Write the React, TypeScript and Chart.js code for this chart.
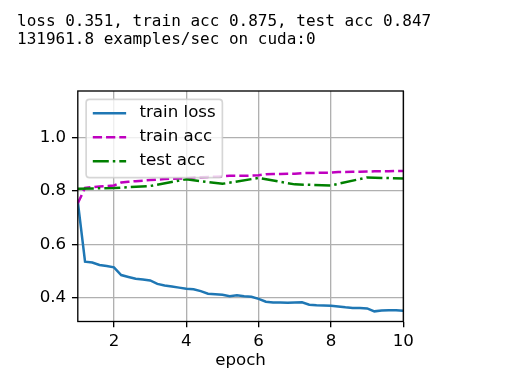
import React, { useEffect, useRef } from "react";
import { Chart, registerables } from "chart.js";

Chart.register(...registerables);

// ---- data ----
const epochs = [
  1.0, 1.2, 1.4, 1.6, 1.8, 2.0, 2.2, 2.4, 2.6, 2.8,
  3.0, 3.2, 3.4, 3.6, 3.8, 4.0, 4.2, 4.4, 4.6, 4.8,
  5.0, 5.2, 5.4, 5.6, 5.8, 6.0, 6.2, 6.4, 6.6, 6.8,
  7.0, 7.2, 7.4, 7.6, 7.8, 8.0, 8.2, 8.4, 8.6, 8.8,
  9.0, 9.2, 9.4, 9.6, 9.8, 10.0,
];
const trainLoss = [
  0.76, 0.535, 0.532, 0.523, 0.519, 0.514, 0.485, 0.478, 0.471, 0.468,
  0.465, 0.452, 0.446, 0.442, 0.438, 0.434, 0.432, 0.425, 0.415, 0.413,
  0.411, 0.406, 0.409, 0.406, 0.404, 0.396, 0.385, 0.382, 0.382, 0.381,
  0.382, 0.383, 0.374, 0.372, 0.371, 0.37, 0.367, 0.364, 0.362, 0.362,
  0.36, 0.349, 0.352, 0.353, 0.353, 0.351,
];
const trainAcc = [
  0.754, 0.812, 0.815, 0.817, 0.819, 0.821, 0.832, 0.835, 0.837, 0.839,
  0.841, 0.843, 0.845, 0.846, 0.847, 0.848, 0.851, 0.852, 0.853, 0.854,
  0.855, 0.857, 0.857, 0.857, 0.858, 0.859, 0.863, 0.864, 0.864, 0.865,
  0.865, 0.867, 0.868, 0.868, 0.869, 0.869, 0.871, 0.871, 0.872, 0.872,
  0.873, 0.874, 0.874, 0.874, 0.875, 0.875,
];
const testEpochs = [1, 2, 3, 4, 5, 6, 7, 8, 9, 10];
const testAcc = [0.809, 0.811, 0.819, 0.844, 0.827, 0.849, 0.825, 0.821, 0.851, 0.847];

const xTicks = [2, 4, 6, 8, 10];
const yTicks = [0.4, 0.6, 0.8, 1.0];
const seriesLabels = ["train loss", "train acc", "test acc"];
const xTitle = "epoch";
const summaryLines = [
  "loss 0.351, train acc 0.875, test acc 0.847",
  "131961.8 examples/sec on cuda:0",
];
const X_MIN = 1;
const X_MAX = 10;
const Y_MIN = 0.311;
const Y_MAX = 1.175;

// ---- style ----
const PT = 120 / 72; // px per point
const FS = 10 * PT;
const FONT_FAMILY = "'DejaVu Sans', sans-serif";
const LW = 1.5 * PT;

const framePlugin = {
  id: "mplFrame",
  afterDatasetsDraw(chart: any) {
    const { ctx, chartArea: a } = chart;
    ctx.save();
    // spines
    ctx.strokeStyle = "#000";
    ctx.lineWidth = 0.8 * PT;
    ctx.strokeRect(a.left, a.top, a.right - a.left, a.bottom - a.top);

    // legend
    ctx.font = `${FS}px ${FONT_FAMILY}`;
    const pad = 0.4 * FS;
    const axpad = 0.5 * FS;
    const handleLen = 2 * FS;
    const handlePad = 0.8 * FS;
    const maxW = Math.max(...seriesLabels.map((l) => ctx.measureText(l).width));
    const x0 = a.left + axpad;
    const y0 = a.top + axpad;
    const w = pad + handleLen + handlePad + maxW + pad;
    const h = 4.7 * FS;
    const rowH = 1.44 * FS;
    const r = 0.2 * FS;
    ctx.beginPath();
    ctx.moveTo(x0 + r, y0);
    ctx.lineTo(x0 + w - r, y0);
    ctx.quadraticCurveTo(x0 + w, y0, x0 + w, y0 + r);
    ctx.lineTo(x0 + w, y0 + h - r);
    ctx.quadraticCurveTo(x0 + w, y0 + h, x0 + w - r, y0 + h);
    ctx.lineTo(x0 + r, y0 + h);
    ctx.quadraticCurveTo(x0, y0 + h, x0, y0 + h - r);
    ctx.lineTo(x0, y0 + r);
    ctx.quadraticCurveTo(x0, y0, x0 + r, y0);
    ctx.closePath();
    ctx.fillStyle = "rgba(255,255,255,0.8)";
    ctx.fill();
    ctx.strokeStyle = "rgba(204,204,204,0.8)";
    ctx.lineWidth = 1.0 * PT;
    ctx.stroke();

    seriesLabels.forEach((label, i) => {
      const ds = chart.data.datasets.find((d: any) => d.label === label);
      const cy = y0 + 0.84 * FS + i * rowH;
      ctx.beginPath();
      ctx.setLineDash(ds.borderDash || []);
      ctx.strokeStyle = ds.borderColor;
      ctx.lineWidth = ds.borderWidth;
      ctx.lineCap = "butt";
      ctx.moveTo(x0 + pad, cy);
      ctx.lineTo(x0 + pad + handleLen, cy);
      ctx.stroke();
      ctx.setLineDash([]);
      ctx.fillStyle = "#000";
      ctx.textBaseline = "middle";
      ctx.textAlign = "left";
      ctx.fillText(label, x0 + pad + handleLen + handlePad, cy - 0.8);
    });
    ctx.restore();
  },
};

export default function App() {
  const canvasRef = useRef<HTMLCanvasElement | null>(null);

  useEffect(() => {
    if (!canvasRef.current) return;
    const tickFont = { family: FONT_FAMILY, size: FS };
    const chart = new Chart(canvasRef.current, {
      type: "line",
      data: {
        datasets: [
          {
            label: seriesLabels[0],
            data: epochs.map((x, i) => ({ x, y: trainLoss[i] })),
            borderColor: "#1f77b4",
            borderWidth: LW,
            pointRadius: 0,
            tension: 0,
            fill: false,
            order: 3,
          },
          {
            label: seriesLabels[1],
            data: epochs.map((x, i) => ({ x, y: trainAcc[i] })),
            borderColor: "#bf00bf",
            borderWidth: LW,
            borderDash: [3.7, 1.6].map((v) => v * LW),
            pointRadius: 0,
            tension: 0,
            fill: false,
            order: 2,
          },
          {
            label: seriesLabels[2],
            data: testEpochs.map((x, i) => ({ x, y: testAcc[i] })),
            borderColor: "#008000",
            borderWidth: LW,
            borderDash: [6.4, 1.6, 1.0, 1.6].map((v) => v * LW),
            pointRadius: 0,
            tension: 0,
            fill: false,
            order: 1,
          },
        ],
      },
      options: {
        responsive: false,
        animation: false,
        events: [],
        layout: { padding: { left: 0, right: 122.7, top: 91, bottom: 0 } },
        plugins: { legend: { display: false }, tooltip: { enabled: false } },
        scales: {
          x: {
            type: "linear",
            min: X_MIN,
            max: X_MAX,
            afterBuildTicks: (s: any) => {
              s.ticks = xTicks.map((v) => ({ value: v }));
            },
            afterFit: (s: any) => {
              s.height = 60.5;
            },
            border: { display: false },
            grid: {
              color: "#b0b0b0",
              lineWidth: 0.8 * PT,
              drawTicks: true,
              tickColor: "#000",
              tickLength: 3.5 * PT,
              tickWidth: 0.8 * PT,
            },
            ticks: {
              font: tickFont,
              color: "#000",
              padding: 4,
              maxRotation: 0,
              autoSkip: false,
              callback: (v: any) => String(v),
            },
            title: {
              display: true,
              text: xTitle,
              font: tickFont,
              color: "#000",
              padding: { top: 0, bottom: 11 },
            },
          },
          y: {
            type: "linear",
            min: Y_MIN,
            max: Y_MAX,
            afterBuildTicks: (s: any) => {
              s.ticks = yTicks.map((v) => ({ value: v }));
            },
            afterFit: (s: any) => {
              s.width = 77.8;
            },
            border: { display: false },
            grid: {
              color: "#b0b0b0",
              lineWidth: 0.8 * PT,
              drawTicks: true,
              tickColor: "#000",
              tickLength: 3.5 * PT,
              tickWidth: 0.8 * PT,
            },
            ticks: {
              font: tickFont,
              color: "#000",
              padding: 5.8,
              autoSkip: false,
              callback: (v: any) => Number(v).toFixed(1),
            },
          },
        },
      },
      plugins: [framePlugin],
    } as any);
    return () => chart.destroy();
  }, []);

  return (
    <div
      style={{
        position: "fixed",
        left: 0,
        top: 0,
        width: 526,
        height: 382,
        background: "#fff",
        overflow: "hidden",
      }}
    >
      <canvas
        ref={canvasRef}
        width={526}
        height={382}
        style={{ position: "absolute", left: 0, top: 0, width: 526, height: 382 }}
      />
      <div
        style={{
          position: "absolute",
          left: 17,
          top: 11.5,
          fontFamily: "'DejaVu Sans Mono', monospace",
          fontSize: 16,
          lineHeight: "18px",
          whiteSpace: "pre",
          color: "#000",
        }}
      >
        {summaryLines.map((l) => (
          <div key={l}>{l}</div>
        ))}
      </div>
    </div>
  );
}
